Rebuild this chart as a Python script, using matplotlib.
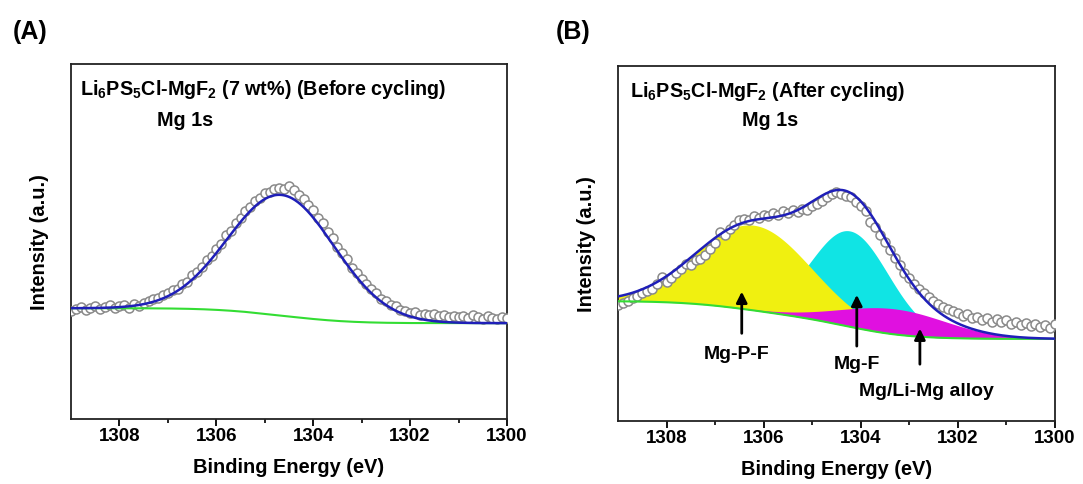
import numpy as np
import matplotlib
matplotlib.use('Agg')
import matplotlib.pyplot as plt

plt.rcParams['font.family'] = ['Liberation Sans', 'DejaVu Sans']
plt.rcParams['font.weight'] = 'bold'
plt.rcParams['mathtext.fontset'] = 'custom'
plt.rcParams['mathtext.bf'] = 'Liberation Sans:bold'
plt.rcParams['mathtext.rm'] = 'Liberation Sans:bold'

# measured points, binding energy 1309.0 -> 1300.0 in 0.1 eV steps
energy = np.round(np.arange(1309.0, 1299.95, -0.1), 1)

before_counts = [
    0.305, 0.310, 0.315, 0.308, 0.313, 0.318, 0.311, 0.316, 0.320, 0.312,
    0.317, 0.322, 0.314, 0.324, 0.318, 0.327, 0.331, 0.338, 0.341, 0.350,
    0.356, 0.362, 0.366, 0.381, 0.386, 0.405, 0.414, 0.428, 0.448, 0.460,
    0.480, 0.494, 0.517, 0.530, 0.552, 0.566, 0.586, 0.598, 0.614, 0.622,
    0.636, 0.640, 0.648, 0.652, 0.648, 0.655, 0.644, 0.632, 0.621, 0.603,
    0.588, 0.567, 0.551, 0.526, 0.510, 0.484, 0.467, 0.450, 0.424, 0.412,
    0.394, 0.381, 0.366, 0.356, 0.339, 0.333, 0.320, 0.318, 0.306, 0.304,
    0.298, 0.301, 0.294, 0.297, 0.292, 0.295, 0.289, 0.293, 0.287, 0.291,
    0.286, 0.290, 0.284, 0.292, 0.287, 0.283, 0.289, 0.284, 0.282, 0.286,
    0.285]

after_counts = [
    0.328, 0.332, 0.338, 0.345, 0.352, 0.360, 0.366, 0.372, 0.385, 0.405,
    0.392, 0.402, 0.418, 0.428, 0.442, 0.440, 0.452, 0.456, 0.468, 0.485,
    0.502, 0.532, 0.525, 0.540, 0.552, 0.565, 0.570, 0.566, 0.578, 0.572,
    0.581, 0.576, 0.585, 0.580, 0.590, 0.586, 0.595, 0.588, 0.598, 0.594,
    0.605, 0.612, 0.620, 0.632, 0.638, 0.645, 0.640, 0.634, 0.630, 0.618,
    0.605, 0.590, 0.560, 0.545, 0.524, 0.505, 0.482, 0.458, 0.438, 0.418,
    0.402, 0.385, 0.372, 0.360, 0.348, 0.338, 0.330, 0.322, 0.316, 0.310,
    0.304, 0.296, 0.300, 0.290, 0.294, 0.285, 0.290, 0.280, 0.286, 0.278,
    0.283, 0.274, 0.280, 0.270, 0.277, 0.268, 0.274, 0.265, 0.271, 0.262,
    0.272]

# fitted components (center eV, height, sigma eV)
before_center = [1304.65]
before_height = [0.34]
before_sigma = [1.10]
before_bg = (0.312, 0.270)   # high-BE side, low-BE side

after_names = ['Mg-P-F', 'Mg-F', 'Mg/Li-Mg alloy']
after_center = [1306.20, 1304.22, 1303.30]
after_height = [0.240, 0.270, 0.072]
after_sigma = [1.17, 0.80, 1.10]
after_bg = (0.337, 0.231)


def components(x, centers, heights, sigmas):
    return [h * np.exp(-(x - c) ** 2 / (2 * s ** 2))
            for c, h, s in zip(centers, heights, sigmas)]


def shirley(x, peaks, bg):
    # x ascending; background follows the integrated peak area
    total = np.sum(peaks, axis=0)
    cum = np.cumsum(total)
    return bg[1] + (bg[0] - bg[1]) * cum / cum[-1]


grid = np.linspace(1300, 1309, 600)

fig = plt.figure(figsize=(10.83, 4.85), dpi=100)
axA = fig.add_axes([0.0656, 0.134, 0.4025, 0.732])
axB = fig.add_axes([0.5706, 0.130, 0.4034, 0.732])


def style(ax):
    ax.set_xlim(1309, 1300)
    ax.set_ylim(0, 1)
    ax.set_xticks([1308, 1306, 1304, 1302, 1300])
    ax.set_xticks(np.arange(1301, 1309, 2), minor=True)
    ax.set_yticks([])
    ax.tick_params(axis='x', direction='out', length=5, width=1.3,
                   labelsize=13.5, pad=1)
    ax.tick_params(axis='x', which='minor', direction='out', length=3, width=1.2)
    for lab in ax.get_xticklabels():
        lab.set_fontweight('bold')
    for sp in ax.spines.values():
        sp.set_linewidth(1.3)
        sp.set_color('#222222')
    ax.set_xlabel('Binding Energy (eV)', fontsize=14.4, fontweight='bold', labelpad=9)
    ax.set_ylabel('Intensity (a.u.)', fontsize=14.4, fontweight='bold', labelpad=16)


# ---- (A) before cycling
pA = components(grid, before_center, before_height, before_sigma)
bgA = shirley(grid, pA, before_bg)
axA.plot(energy, before_counts, 'o', ms=6.5, mfc='white', mec='#8a8a8a', mew=1.1, zorder=3)
axA.plot(grid, bgA, color='#33dd33', lw=1.5, zorder=4)
axA.plot(grid, bgA + np.sum(pA, axis=0), color='#1f1fb8', lw=1.8, zorder=5)
style(axA)
axA.text(0.02, 0.93, r'Li$_\mathbf{6}$PS$_\mathbf{5}$Cl-MgF$_\mathbf{2}$ (7 wt%) (Before cycling)',
         transform=axA.transAxes, fontsize=14.2, fontweight='bold', va='center')
axA.text(0.197, 0.845, 'Mg 1s', transform=axA.transAxes, fontsize=14.2,
         fontweight='bold', va='center')

# ---- (B) after cycling
pB = components(grid, after_center, after_height, after_sigma)
bgB = shirley(grid, pB, after_bg)
fill_colors = ['#f0f010', '#10e4e4', '#e010e0']
order = [1, 0, 2]
for z, i in enumerate(order):
    axB.fill_between(grid, bgB, bgB + pB[i], color=fill_colors[i], lw=0, zorder=1 + z)
axB.plot(energy, after_counts, 'o', ms=6.5, mfc='white', mec='#8a8a8a', mew=1.1, zorder=5)
axB.plot(grid, bgB, color='#33dd33', lw=1.5, zorder=6)
axB.plot(grid, bgB + np.sum(pB, axis=0), color='#1f1fb8', lw=1.8, zorder=7)
style(axB)
axB.text(0.027, 0.93, r'Li$_\mathbf{6}$PS$_\mathbf{5}$Cl-MgF$_\mathbf{2}$ (After cycling)',
         transform=axB.transAxes, fontsize=14.2, fontweight='bold', va='center')
axB.text(0.284, 0.85, 'Mg 1s', transform=axB.transAxes, fontsize=14.2,
         fontweight='bold', va='center')

arrow_x = [1306.45, 1304.08, 1302.78]
arrow_tail = [0.239, 0.203, 0.152]
arrow_head = [0.372, 0.363, 0.268]
label_x = [1306.55, 1304.08, 1302.64]
label_y = [0.189, 0.161, 0.085]
for name, ax_, t, h, lx, ly in zip(after_names, arrow_x, arrow_tail, arrow_head, label_x, label_y):
    axB.annotate('', xy=(ax_, h), xytext=(ax_, t),
                 arrowprops=dict(arrowstyle='-|>', lw=2, color='black', mutation_scale=16),
                 zorder=8)
    axB.text(lx, ly, name, fontsize=14, fontweight='bold', ha='center', va='center', zorder=8)

fig.text(0.012, 0.935, '(A)', fontsize=18, fontweight='bold', va='center')
fig.text(0.513, 0.935, '(B)', fontsize=18, fontweight='bold', va='center')

fig.savefig('out.png', dpi=100)
